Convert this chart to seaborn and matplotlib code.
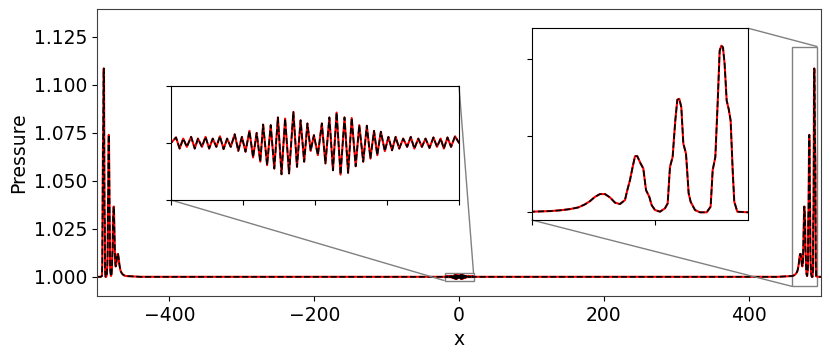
import numpy as np
import pandas as pd
import seaborn as sns
import matplotlib
matplotlib.use('Agg')
import matplotlib.pyplot as plt
from mpl_toolkits.axes_grid1.inset_locator import mark_inset

## DATA

# right-moving front, x in [440, 500]
right_x = [440.0, 460.0, 461.34, 462.96, 464.57, 466.19, 467.53, 468.61, 469.42, 470.23,
           471.03, 471.84, 472.65, 473.46, 474.26, 475.07, 475.45, 475.88, 476.31, 476.69,
           477.06, 477.60, 478.03, 478.47, 479.00, 479.38, 479.92, 480.73, 481.53, 481.97,
           482.34, 482.77, 483.20, 483.53, 483.85, 484.17, 484.50, 484.93, 485.36, 485.68,
           486.38, 487.19, 488.27, 488.91, 489.24, 489.67, 490.04, 490.37, 490.64, 490.90,
           491.17, 491.50, 491.82, 492.14, 492.47, 492.73, 493.22, 495.0, 500.0]
right_p = [1.0000, 1.0004, 1.0006, 1.0008, 1.0013, 1.0021, 1.0032, 1.0052, 1.0073, 1.0101,
           1.0119, 1.0119, 1.0097, 1.0063, 1.0054, 1.0080, 1.0145, 1.0210, 1.0296, 1.0366,
           1.0366, 1.0318, 1.0286, 1.0145, 1.0101, 1.0047, 1.0015, 1.0004, 1.0026, 1.0058,
           1.0296, 1.0361, 1.0599, 1.0734, 1.0740, 1.0686, 1.0448, 1.0383, 1.0123, 1.0069,
           1.0015, 1.0000, 1.0000, 1.0037, 1.0275, 1.0361, 1.0708, 1.1054, 1.1086, 1.1076,
           1.0967, 1.0729, 1.0675, 1.0599, 1.0275, 1.0069, 1.0004, 1.0000, 1.0000]

# left-moving front, x in [-500, -440]
left_x = [-500.0, -495.0, -493.22, -492.73, -492.47, -492.14, -491.82, -491.50, -491.17, -490.90,
          -490.64, -490.37, -490.04, -489.67, -489.24, -488.91, -488.27, -487.19, -486.38, -485.68,
          -485.36, -484.93, -484.50, -484.17, -483.85, -483.53, -483.20, -482.77, -482.34, -481.97,
          -481.53, -480.73, -479.92, -479.38, -479.00, -478.47, -478.03, -477.60, -477.06, -476.69,
          -476.31, -475.88, -475.45, -475.07, -474.26, -473.46, -472.65, -471.84, -471.03, -470.23,
          -469.42, -468.61, -467.53, -466.19, -464.57, -462.96, -461.34, -460.0, -440.0]
left_p = [1.0000, 1.0000, 1.0004, 1.0069, 1.0275, 1.0599, 1.0675, 1.0729, 1.0967, 1.1076,
          1.1086, 1.1054, 1.0708, 1.0361, 1.0275, 1.0037, 1.0000, 1.0000, 1.0015, 1.0069,
          1.0123, 1.0383, 1.0448, 1.0686, 1.0740, 1.0734, 1.0599, 1.0361, 1.0296, 1.0058,
          1.0026, 1.0004, 1.0015, 1.0047, 1.0101, 1.0145, 1.0286, 1.0318, 1.0366, 1.0366,
          1.0296, 1.0210, 1.0145, 1.0080, 1.0054, 1.0063, 1.0097, 1.0119, 1.0119, 1.0101,
          1.0073, 1.0052, 1.0032, 1.0021, 1.0013, 1.0008, 1.0006, 1.0004, 1.0000]

# wave packet around x = 0 (extrema), deviation from 1 in units of 1e-4
packet_x = [-20.0, -19.3, -18.8, -18.3, -17.8, -17.2, -16.7, -16.25, -15.7, -15.2,
            -14.7, -14.2, -13.7, -13.2, -12.7, -12.2, -11.7, -11.15, -10.65, -10.15,
            -9.65, -9.1, -8.6, -8.1, -7.6, -7.2, -6.65, -6.15, -5.65, -5.15,
            -4.65, -4.15, -3.6, -3.0, -2.5, -2.0, -1.5, -1.05, -0.6, -0.15,
            0.4, 0.95, 1.45, 2.0, 2.5, 3.0, 3.55, 4.1, 4.6, 5.1,
            5.65, 6.15, 6.7, 7.2, 7.7, 8.2, 8.65, 9.15, 9.7, 10.2,
            10.7, 11.2, 11.7, 12.25, 12.8, 13.3, 13.8, 14.35, 14.85, 15.35,
            15.9, 16.45, 16.95, 17.45, 17.9, 18.4, 18.9, 19.45, 20.0]
packet_dp = [0.0, 1.9, -2.0, 1.5, -1.4, 2.1, -2.0, 1.5, -1.4, 2.1,
             -2.0, 1.5, -1.4, 2.3, -2.2, 1.5, -1.4, 3.0, -2.8, 2.1,
             -3.1, 4.2, -5.1, 3.5, -6.6, 6.4, -7.8, 6.2, -9.0, 8.9,
             -11.0, 8.5, -10.7, 10.8, -8.4, 7.9, -6.6, 6.8, -2.8, 2.7,
             -4.3, 6.8, -7.2, 8.9, -9.6, 10.6, -11.1, 8.9, -10.5, 8.7,
             -8.2, 6.2, -6.6, 6.0, -5.5, 4.2, -4.3, 3.9, -2.9, 2.1,
             -2.6, 2.1, -2.0, 1.5, -1.4, 2.1, -2.0, 1.5, -1.4, 1.5,
             -1.8, 1.9, -1.4, 1.5, -2.0, 1.9, -1.4, 2.3, 0.0]

# build one long-format table for both curves
x_all = left_x + packet_x + right_x
p_all = left_p + [1 + v * 1e-4 for v in packet_dp] + right_p
df = pd.DataFrame({'x': x_all, 'Pressure': p_all})

## PLOT

sns.set_style('ticks')
plt.rcParams['font.family'] = ['DejaVu Sans']
plt.rcParams['font.size'] = 13.5
for k in ['text.color', 'axes.labelcolor', 'xtick.color', 'ytick.color']:
    plt.rcParams[k] = 'black'
plt.rcParams['axes.edgecolor'] = '0.25'

fig = plt.figure(figsize=(8.3, 3.58), dpi=100)
ax = fig.add_axes([0.1169, 0.1732, 0.8723, 0.8017])
ax1 = fig.add_axes([0.2060, 0.4413, 0.3470, 0.3193])  # zoom on centre packet
ax2 = fig.add_axes([0.6406, 0.3855, 0.2610, 0.5355])  # zoom on right front


def draw(a):
    sns.lineplot(ax=a, data=df, x='x', y='Pressure', color='red', lw=1.5,
                 estimator=None, sort=False)
    sns.lineplot(ax=a, data=df, x='x', y='Pressure', color='black', lw=1.2,
                 linestyle='--', estimator=None, sort=False)


draw(ax)
ax.set(xlim=(-500, 500), ylim=(0.99, 1.1396), xlabel='x', ylabel='Pressure')
ax.set_xticks([-400, -200, 0, 200, 400])
ax.set_yticks([1.0, 1.025, 1.05, 1.075, 1.1, 1.125])
ax.set_yticklabels(['1.000', '1.025', '1.050', '1.075', '1.100', '1.125'])
ax.tick_params(labelsize=13.5)
ax.xaxis.label.set_size(13.5)
ax.yaxis.label.set_size(13.5)

draw(ax1)
ax1.set(xlim=(-20, 20), ylim=(0.998, 1.002), xlabel=None, ylabel=None)
ax1.set_xticks([-20, -10, 0, 10, 20])
ax1.set_yticks([0.998, 1.0, 1.002])

draw(ax2)
ax2.set(xlim=(460, 495), ylim=(0.995, 1.12), xlabel=None, ylabel=None)
ax2.set_xticks([460, 480])
ax2.set_yticks([1.0, 1.05, 1.1])

for a in (ax1, ax2):
    a.set_xticklabels([])
    a.set_yticklabels([])
    for s in a.spines.values():
        s.set_color('black')
    a.tick_params(colors='black')

mark_inset(ax, ax1, loc1=1, loc2=3, fc='none', ec='0.5', lw=1)
mark_inset(ax, ax2, loc1=1, loc2=3, fc='none', ec='0.5', lw=1)

plt.savefig('out.png', dpi=100)
